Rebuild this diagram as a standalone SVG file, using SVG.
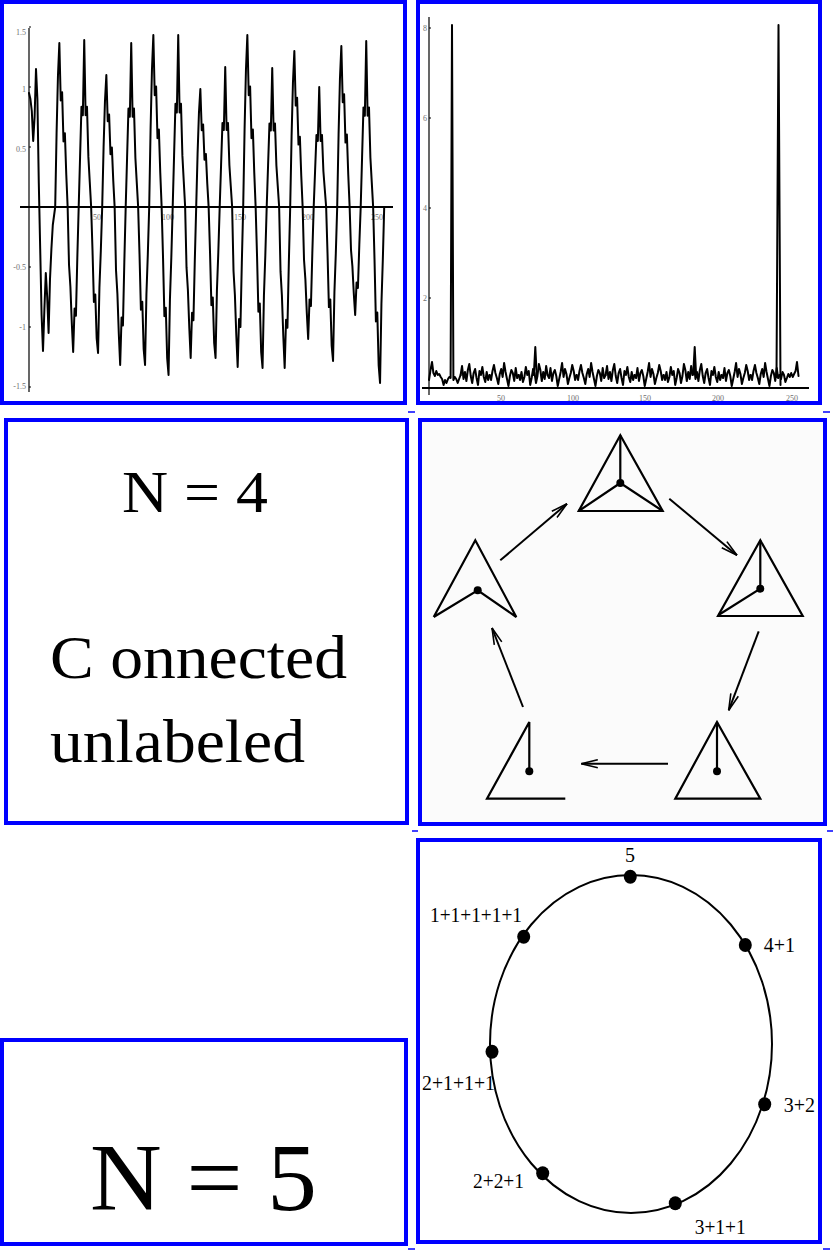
<svg xmlns="http://www.w3.org/2000/svg" xmlns:xlink="http://www.w3.org/1999/xlink" width="834" height="1250" viewBox="0 0 834 1250">
<style>
.frame{fill:#fff;stroke:#0000ff;stroke-width:4}
.dash{stroke:#0000ff;stroke-width:1.5}
.ax{stroke:#000;stroke-width:1.2;fill:none}
.axb{stroke:#000;stroke-width:2.2;fill:none}
.tk{font-family:"Liberation Serif",serif;font-size:8px;fill:#707070}
.sig{fill:none;stroke:#000;stroke-width:2;stroke-linejoin:round;stroke-linecap:round;vector-effect:non-scaling-stroke}
.fft{fill:none;stroke:#000;stroke-width:2;stroke-linejoin:round;stroke-linecap:round}
.g{fill:none;stroke:#000;stroke-width:2.2}
.dot{fill:#000}
.arr{fill:none;stroke:#000;stroke-width:2}
.big{font-family:"Liberation Serif",serif;fill:#000}
.lbl{font-family:"Liberation Serif",serif;font-size:20px;fill:#000}
</style>
<defs>
<marker id="ah" viewBox="0 0 18 10" refX="17.5" refY="5" markerWidth="18" markerHeight="10" markerUnits="userSpaceOnUse" orient="auto">
<path d="M1,1 L17.5,5 L1,9" fill="none" stroke="#000" stroke-width="1.6"/>
</marker>
<path id="pa" class="sig" d="M0,0 L1.38,-0.45 L2.76,-0.8 L4.15,-1 L5.53,-0.65 L6.91,-0.7 L8.29,-0.4 L9.68,-0.45 L11.06,-0.2 L12.44,0"/>
<path id="pb" class="sig" d="M0,0 L1.38,-0.3 L2.76,-0.6 L4.15,-0.55 L5.53,-1 L6.91,-0.55 L8.29,-0.6 L9.68,-0.3 L11.06,-0.15 L12.44,0"/>
<path id="na" class="sig" d="M0,0 L1.38,0.4 L2.76,0.55 L4.15,0.8 L5.53,1 L6.91,0.7 L8.29,0.75 L9.68,0.35 L11.06,0"/>
<path id="nb" class="sig" d="M0,0 L1.38,0.3 L2.76,0.65 L4.15,0.6 L5.53,0.9 L6.91,1 L8.29,0.55 L9.68,0.3 L11.06,0"/>
<path id="fa" class="fft" d="M0,0 L1.45,-9 L2.9,4 L4.35,-3 L5.8,6 L7.25,-5 L8.7,-11 L10.15,1 L11.6,8 L13.05,-2 L14.5,-6 L15.95,3 L17.4,10 L18.85,-4 L20.3,0 L21.75,-8 L23.2,2 L24.65,7 L26.1,-3 L27.55,5 L29,0"/>
<path id="fb" class="fft" d="M0,0 L1.45,5 L2.9,-4 L4.35,-10 L5.8,-2 L7.25,3 L8.7,9 L10.15,-1 L11.6,-6 L13.05,2 L14.5,-12 L15.95,-3 L17.4,4 L18.85,11 L20.3,1 L21.75,-5 L23.2,-2 L24.65,6 L26.1,-7 L27.55,3 L29,0"/>
</defs>

<rect x="0" y="0" width="834" height="1250" fill="#fff"/>

<!-- Panel 1: time signal -->
<g id="signal-plot">
<rect class="frame" x="2" y="2" width="403" height="401"/>
<line class="ax" x1="29" y1="28" x2="29" y2="392"/>
<g class="ax">
<line x1="29" y1="27" x2="31" y2="27"/><line x1="29" y1="87" x2="31" y2="87"/><line x1="29" y1="147" x2="31" y2="147"/>
<line x1="29" y1="267" x2="31" y2="267"/><line x1="29" y1="327" x2="31" y2="327"/><line x1="29" y1="387" x2="31" y2="387"/>
</g>
<g class="tk" text-anchor="end">
<text x="26" y="35">1.5</text>
<text x="26" y="92">1</text>
<text x="26" y="152">0.5</text>
<text x="26" y="270">-0.5</text>
<text x="26" y="330">-1</text>
<text x="26" y="389">-1.5</text>
</g>
<g class="tk" text-anchor="middle">
<text x="97" y="220">50</text>
<text x="168" y="220">100</text>
<text x="240" y="220">150</text>
<text x="308" y="220">200</text>
<text x="377" y="220">250</text>
</g>
<path class="sig" d="M29,93 L30.4,99 L31.8,111 L33.2,141 L34.6,117 L36,69 L37.4,99 L38.8,183 L40.2,249 L41.6,315 L43,351 L44.4,309 L45.8,273 L47.2,297 L48.6,333 L50,279 L51.4,249 L52.8,225 L55.2,207"/>
<use xlink:href="#pa" transform="translate(55.2,207) scale(1,164)"/>
<use xlink:href="#na" transform="translate(67.64,207) scale(1,145)"/>
<use xlink:href="#pb" transform="translate(78.7,207) scale(1,167)"/>
<use xlink:href="#nb" transform="translate(91.14,207) scale(1,146)"/>
<use xlink:href="#pa" transform="translate(102.2,207) scale(1,132)"/>
<use xlink:href="#na" transform="translate(114.64,207) scale(1,158)"/>
<use xlink:href="#pb" transform="translate(125.7,207) scale(1,164)"/>
<use xlink:href="#nb" transform="translate(138.14,207) scale(1,158)"/>
<use xlink:href="#pa" transform="translate(149.2,207) scale(1,172)"/>
<use xlink:href="#nb" transform="translate(161.64,207) scale(1,168)"/>
<use xlink:href="#pb" transform="translate(172.7,207) scale(1,172)"/>
<use xlink:href="#na" transform="translate(185.14,207) scale(1,151)"/>
<use xlink:href="#pa" transform="translate(196.2,207) scale(1,118)"/>
<use xlink:href="#nb" transform="translate(208.64,207) scale(1,151)"/>
<use xlink:href="#pb" transform="translate(219.7,207) scale(1,140)"/>
<use xlink:href="#na" transform="translate(232.14,207) scale(1,160)"/>
<use xlink:href="#pa" transform="translate(243.2,207) scale(1,172)"/>
<use xlink:href="#nb" transform="translate(255.64,207) scale(1,161)"/>
<use xlink:href="#pb" transform="translate(266.7,207) scale(1,139)"/>
<use xlink:href="#na" transform="translate(279.14,207) scale(1,161)"/>
<use xlink:href="#pa" transform="translate(290.2,207) scale(1,156)"/>
<use xlink:href="#na" transform="translate(302.64,207) scale(1,132)"/>
<use xlink:href="#pb" transform="translate(313.7,207) scale(1,120)"/>
<use xlink:href="#nb" transform="translate(326.14,207) scale(1,154)"/>
<use xlink:href="#pa" transform="translate(337.2,207) scale(1,161)"/>
<use xlink:href="#na" transform="translate(349.64,207) scale(1,108)"/>
<use xlink:href="#pb" transform="translate(360.7,207) scale(1,166)"/>
<use xlink:href="#nb" transform="translate(373.14,207) scale(1,176)"/>
<line class="axb" x1="20" y1="207" x2="393" y2="207"/>
</g>

<!-- Panel 2: spectrum -->
<g id="spectrum-plot">
<rect class="frame" x="418" y="2" width="402" height="401"/>
<line class="ax" x1="429" y1="17" x2="429" y2="395"/>
<g class="ax">
<line x1="429" y1="28" x2="431" y2="28"/><line x1="429" y1="118" x2="431" y2="118"/>
<line x1="429" y1="208" x2="431" y2="208"/><line x1="429" y1="298" x2="431" y2="298"/>
</g>
<g class="tk" text-anchor="end">
<text x="427" y="31">8</text>
<text x="427" y="121">6</text>
<text x="427" y="211">4</text>
<text x="427" y="301">2</text>
</g>
<g class="tk" text-anchor="middle">
<text x="501" y="401">50</text>
<text x="573" y="401">100</text>
<text x="645" y="401">150</text>
<text x="718" y="401">200</text>
<text x="792" y="401">250</text>
</g>
<path class="fft" d="M429,380 L430.5,370 L432,362 L433.4,373 L434.9,376 L436.3,371 L437.8,375 L439.2,374 L440.7,377 L442.1,379 L443.6,385 L445,380 L446.5,383 L448,379 L449.3,377 L450.6,378 L452,25 L453.4,380 L454.8,377 L456.2,379 L457.7,383 L459.1,379 L460.6,375"/>
<use xlink:href="#fa" transform="translate(460.6,375)"/>
<use xlink:href="#fb" transform="translate(489.6,375)"/>
<use xlink:href="#fa" transform="translate(547.6,375) scale(-1,1)"/>
<use xlink:href="#fb" transform="translate(576.6,375) scale(-1,1)"/>
<use xlink:href="#fb" transform="translate(576.6,375)"/>
<use xlink:href="#fa" transform="translate(605.6,375)"/>
<use xlink:href="#fb" transform="translate(663.6,375) scale(-1,1)"/>
<use xlink:href="#fa" transform="translate(692.6,375) scale(-1,1)"/>
<use xlink:href="#fa" transform="translate(692.6,375)"/>
<use xlink:href="#fb" transform="translate(750.6,375) scale(-1,1)"/>
<use xlink:href="#fb" transform="translate(750.6,375)"/>
<path class="fft" d="M779.6,375 L781,379 L782.5,372 L784,375 L785.4,382 L786.9,378 L788.3,374 L789.8,377 L791.2,373 L792.7,377 L794.1,374 L795.6,371 L797,362 L798.5,376"/>
<path class="fft" d="M776.5,377 L778.5,25 L780.5,385"/>
<path class="fft" d="M533.8,375 L535.3,347 L536.8,377"/>
<path class="fft" d="M693.2,374 L694.7,347 L696.2,377"/>
<line class="axb" x1="422" y1="388" x2="809" y2="388"/>
</g>

<!-- Panel 3: N = 4 text -->
<g id="n4-label">
<rect class="frame" x="6" y="420" width="401" height="403"/>
<text class="big" x="122" y="512" font-size="60" textLength="146" lengthAdjust="spacingAndGlyphs">N = 4</text>
<text class="big" x="50" y="678" font-size="62" textLength="297" lengthAdjust="spacingAndGlyphs">C onnected</text>
<text class="big" x="50" y="762" font-size="62" textLength="255" lengthAdjust="spacingAndGlyphs">unlabeled</text>
</g>

<!-- Panel 4: cycle of trees -->
<g id="tree-cycle">
<rect class="frame" x="420" y="420" width="405" height="404" style="fill:#fbfbfb"/>
<g id="t1">
<polygon class="g" points="620.3,435.3 578.7,511 662.7,511"/>
<path class="g" d="M620.3,435.3 L620.3,483 M620.3,483 L578.7,511 M620.3,483 L662.7,511"/>
<circle class="dot" cx="620.3" cy="483" r="4"/>
</g>
<g id="t2">
<polygon class="g" points="760.3,540.3 718,616 802.7,616"/>
<path class="g" d="M760.3,540.3 L760.3,588.7 L718.5,615"/>
<circle class="dot" cx="760.3" cy="588.7" r="4"/>
</g>
<g id="t3">
<polygon class="g" points="717,722 675.3,798.7 760.3,798.7"/>
<path class="g" d="M717,722 L717,771.3"/>
<circle class="dot" cx="717" cy="771.3" r="4"/>
</g>
<g id="t4">
<path class="g" d="M565.3,798.7 L487,798.7 L529.3,722 L529.3,771.3"/>
<circle class="dot" cx="529.3" cy="771.3" r="4"/>
</g>
<g id="t5">
<path class="g" d="M433.7,617 L475.3,540.3 L516.3,617 L477.7,590.3 L433.7,617" stroke-linejoin="miter"/>
<circle class="dot" cx="477.7" cy="590.3" r="4"/>
</g>
<g id="connectors">
<line class="arr" x1="500.3" y1="560.3" x2="567" y2="503.7" marker-end="url(#ah)"/>
<line class="arr" x1="669.3" y1="498.7" x2="737" y2="555.3" marker-end="url(#ah)"/>
<line class="arr" x1="758.7" y1="631.3" x2="728.7" y2="710.3" marker-end="url(#ah)"/>
<line class="arr" x1="668" y1="763.7" x2="581.3" y2="763.7" marker-end="url(#ah)"/>
<line class="arr" x1="523" y1="707" x2="492" y2="628" marker-end="url(#ah)"/>
</g>
</g>

<!-- Panel 5: N = 5 -->
<g id="n5-label">
<rect class="frame" x="2" y="1040" width="404" height="204"/>
<text class="big" x="90" y="1210" font-size="96" textLength="227" lengthAdjust="spacingAndGlyphs">N = 5</text>
</g>

<!-- Panel 6: partitions of 5 on ellipse -->
<g id="partition-cycle">
<rect class="frame" x="418" y="840" width="402" height="402"/>
<ellipse cx="631" cy="1044" rx="141" ry="169" fill="none" stroke="#000" stroke-width="2"/>
<g id="p5"><ellipse class="dot" cx="630.3" cy="876.7" rx="6.5" ry="7"/><text class="lbl" x="630" y="862" text-anchor="middle">5</text></g>
<g id="p41"><ellipse class="dot" cx="745.3" cy="945" rx="6.5" ry="7"/><text class="lbl" x="763.7" y="952.3">4+1</text></g>
<g id="p32"><ellipse class="dot" cx="764.7" cy="1104.3" rx="6.5" ry="7"/><text class="lbl" x="783.7" y="1112.3">3+2</text></g>
<g id="p311"><ellipse class="dot" cx="675.3" cy="1203.3" rx="6.5" ry="7"/><text class="lbl" x="694.7" y="1234.3" textLength="51" lengthAdjust="spacingAndGlyphs">3+1+1</text></g>
<g id="p221"><ellipse class="dot" cx="542.7" cy="1173.3" rx="6.5" ry="7"/><text class="lbl" x="473" y="1188.3" textLength="51" lengthAdjust="spacingAndGlyphs">2+2+1</text></g>
<g id="p2111"><ellipse class="dot" cx="492" cy="1051.7" rx="6.5" ry="7"/><text class="lbl" x="422" y="1090" textLength="73" lengthAdjust="spacingAndGlyphs">2+1+1+1</text></g>
<g id="p11111"><ellipse class="dot" cx="523.7" cy="936.7" rx="6.5" ry="7"/><text class="lbl" x="430" y="922.3" textLength="92" lengthAdjust="spacingAndGlyphs">1+1+1+1+1</text></g>
</g>

<!-- small link underline marks -->
<g id="marks">
<line class="dash" x1="408" y1="412" x2="415" y2="412"/>
<line class="dash" x1="823" y1="412" x2="830" y2="412"/>
<line class="dash" x1="412" y1="831" x2="418" y2="831"/>
<line class="dash" x1="827" y1="831" x2="833" y2="831"/>
<line class="dash" x1="408" y1="1249" x2="415" y2="1249"/>
<line class="dash" x1="823" y1="1249" x2="830" y2="1249"/>
</g>
</svg>
